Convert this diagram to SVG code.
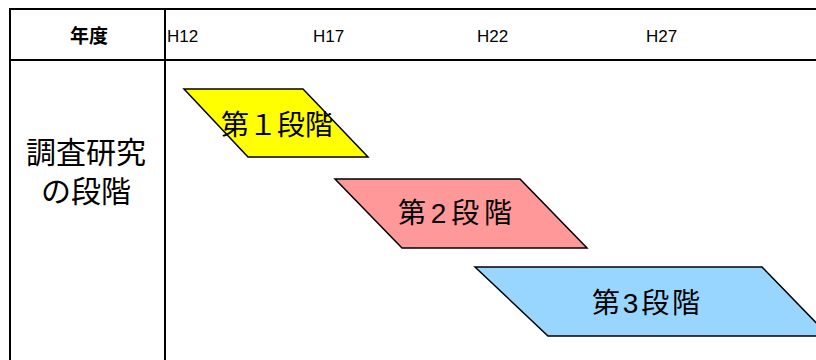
<svg xmlns="http://www.w3.org/2000/svg" width="816" height="360" viewBox="0 0 816 360">
<style>
.grid{stroke:#000;stroke-width:2;fill:none}
.stage{stroke:#000;stroke-width:1.5}
.jp{font-family:"Liberation Sans","Noto Sans CJK JP",sans-serif;fill:#000}
.yr{font-family:"Liberation Sans",Arial,sans-serif;font-size:17px;fill:#000}
</style>
<rect width="816" height="360" fill="#fff"/>
<g id="table">
<line class="grid" x1="9" y1="9" x2="816" y2="9"/>
<line class="grid" x1="9" y1="60" x2="816" y2="60"/>
<line class="grid" x1="10" y1="8" x2="10" y2="360"/>
<line class="grid" x1="165" y1="8" x2="165" y2="360"/>
<text class="jp" x="89" y="43" font-size="19" font-weight="bold" text-anchor="middle">年度</text>
<text class="yr" x="167" y="42">H12</text>
<text class="yr" x="313" y="42">H17</text>
<text class="yr" x="477" y="42">H22</text>
<text class="yr" x="646" y="42">H27</text>
<text class="jp" x="86" y="163" font-size="30" text-anchor="middle">調査研究</text>
<text class="jp" x="86" y="202" font-size="30" text-anchor="middle">の段階</text>
</g>
<g id="stage1">
<polygon class="stage" fill="#FFFF00" points="184,89 303,89 368,157 248,157"/>
<text class="jp" x="277" y="135" font-size="28" text-anchor="middle">第１段階</text>
</g>
<g id="stage2">
<polygon class="stage" fill="#FF9999" points="335,179 520,179 587,248 402,248"/>
<text class="jp" x="455" y="223" font-size="28" text-anchor="middle" textLength="114" lengthAdjust="spacing">第2段階</text>
</g>
<g id="stage3">
<polygon class="stage" fill="#99D6FF" points="475,267 762,267 829,336 548,336"/>
<text class="jp" x="646" y="313" font-size="28" text-anchor="middle" textLength="108" lengthAdjust="spacing">第3段階</text>
</g>
<g id="connectors"/>
</svg>
